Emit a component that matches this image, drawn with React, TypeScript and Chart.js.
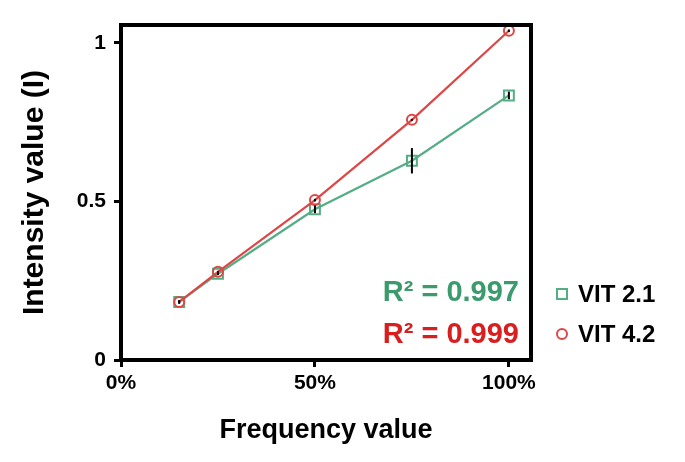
import React, { useEffect, useRef } from "react";
import { Chart, registerables } from "chart.js";

Chart.register(...registerables);

const frequency = [0.15, 0.25, 0.5, 0.75, 1.0];
const vit21 = [0.183, 0.272, 0.475, 0.628, 0.834];
const vit21Err = [0.006, 0.004, 0.012, 0.04, 0.012];
const vit42 = [0.183, 0.278, 0.504, 0.757, 1.038];
const vit42Err = [0.004, 0.003, 0.004, 0.003, 0.004];
const seriesNames = ["VIT 2.1", "VIT 4.2"];
const r2Labels = ["R\u00B2 = 0.997", "R\u00B2 = 0.999"];
const xTickValues = [0, 0.5, 1];
const xTickLabels = ["0%", "50%", "100%"];
const yTickValues = [0, 0.5, 1];
const yTickLabels = ["0", "0.5", "1"];
const xTitle = "Frequency value";
const yTitle = "Intensity value (I)";

const FONT = "'Liberation Sans', Arial, Helvetica, sans-serif";
const GREEN_LINE = "#55ad86";
const GREEN_TEXT = "#3c9a6c";
const RED_LINE = "#de4646";
const RED_TEXT = "#d81e1e";

const extrasPlugin = {
  id: "extras",
  afterDatasetsDraw(chart: any) {
    const { ctx } = chart;
    const yScale = chart.scales.y;
    const errs = [vit21Err, vit42Err];
    ctx.save();
    ctx.strokeStyle = "#000";
    ctx.lineWidth = 2;
    chart.data.datasets.forEach((ds: any, di: number) => {
      const meta = chart.getDatasetMeta(di);
      meta.data.forEach((pt: any, i: number) => {
        const v = ds.data[i].y;
        const e = errs[di][i];
        const y1 = yScale.getPixelForValue(v - e);
        const y2 = yScale.getPixelForValue(v + e);
        ctx.beginPath();
        ctx.moveTo(pt.x, y1);
        ctx.lineTo(pt.x, y2);
        ctx.stroke();
      });
    });
    ctx.restore();
  },
  afterDraw(chart: any) {
    const { ctx, chartArea } = chart;
    ctx.save();
    ctx.strokeStyle = "#000";
    ctx.lineWidth = 4;
    ctx.strokeRect(chartArea.left, chartArea.top, chartArea.right - chartArea.left, chartArea.bottom - chartArea.top);

    ctx.font = `bold 29px ${FONT}`;
    ctx.textAlign = "right";
    ctx.textBaseline = "alphabetic";
    const r2Colors = [GREEN_TEXT, RED_TEXT];
    r2Labels.forEach((t, i) => {
      ctx.fillStyle = r2Colors[i];
      ctx.fillText(t, chartArea.right - 12, 301 + i * 42);
    });

    const lx = chartArea.right + 31;
    const rows = [294, 334];
    ctx.font = `bold 24px ${FONT}`;
    ctx.textAlign = "left";
    ctx.textBaseline = "middle";
    ctx.lineWidth = 2;
    seriesNames.forEach((name, i) => {
      const y = rows[i];
      if (i === 0) {
        ctx.strokeStyle = GREEN_LINE;
        ctx.strokeRect(lx - 5, y - 5, 10, 10);
      } else {
        ctx.strokeStyle = RED_LINE;
        ctx.beginPath();
        ctx.arc(lx, y, 5, 0, Math.PI * 2);
        ctx.stroke();
      }
      ctx.fillStyle = "#000";
      ctx.fillText(name, lx + 16, y + 1);
    });
    ctx.restore();
  },
};

export default function App() {
  const ref = useRef<HTMLCanvasElement | null>(null);
  useEffect(() => {
    document.body.style.margin = "0";
    const canvas = ref.current!;
    const chart = new Chart(canvas, {
      type: "scatter",
      data: {
        datasets: [
          {
            label: seriesNames[0],
            data: frequency.map((x, i) => ({ x, y: vit21[i] })),
            showLine: true,
            borderColor: GREEN_LINE,
            borderWidth: 2.2,
            pointStyle: "rect",
            pointRadius: 7,
            pointBorderWidth: 2,
            pointBorderColor: GREEN_LINE,
            pointBackgroundColor: "rgba(255,255,255,0)",
            order: 2,
          },
          {
            label: seriesNames[1],
            data: frequency.map((x, i) => ({ x, y: vit42[i] })),
            showLine: true,
            borderColor: RED_LINE,
            borderWidth: 2.2,
            pointStyle: "circle",
            pointRadius: 5,
            pointBorderWidth: 2,
            pointBorderColor: RED_LINE,
            pointBackgroundColor: "rgba(255,255,255,0)",
            order: 1,
          },
        ],
      },
      options: {
        responsive: false,
        animation: false,
        devicePixelRatio: 1,
        layout: { padding: { top: 25, right: 154, left: 0, bottom: 0 } },
        plugins: { legend: { display: false }, tooltip: { enabled: false } },
        scales: {
          x: {
            type: "linear",
            min: 0,
            max: 1.057,
            afterBuildTicks: (s: any) => {
              s.ticks = xTickValues.map((v) => ({ value: v }));
            },
            afterFit: (s: any) => {
              s.height = 102;
            },
            ticks: {
              callback: (_v: any, i: number) => xTickLabels[i],
              font: { family: FONT, size: 21, weight: "bold" },
              color: "#000",
              padding: 4,
              maxRotation: 0,
              autoSkip: false,
            },
            grid: { drawOnChartArea: false, color: "#000", tickLength: 7, tickWidth: 3 },
            border: { display: false },
            title: {
              display: true,
              text: xTitle,
              color: "#000",
              font: { family: FONT, size: 27, weight: "bold" },
              padding: { top: 0, bottom: 15 },
            },
          },
          y: {
            type: "linear",
            min: 0,
            max: 1.056,
            afterBuildTicks: (s: any) => {
              s.ticks = yTickValues.map((v) => ({ value: v }));
            },
            afterFit: (s: any) => {
              s.width = 121;
            },
            ticks: {
              callback: (_v: any, i: number) => yTickLabels[i],
              font: { family: FONT, size: 21, weight: "bold" },
              color: "#000",
              padding: 8,
              autoSkip: false,
            },
            grid: { drawOnChartArea: false, color: "#000", tickLength: 7, tickWidth: 3 },
            border: { display: false },
            title: {
              display: true,
              text: yTitle,
              color: "#000",
              font: { family: FONT, size: 30, weight: "bold" },
              padding: { top: 17, bottom: 0 },
            },
          },
        },
      },
      plugins: [extrasPlugin],
    });
    return () => chart.destroy();
  }, []);
  return (
    <div style={{ width: 685, height: 462 }}>
      <canvas ref={ref} width={685} height={462} style={{ display: "block", width: 685, height: 462 }} />
    </div>
  );
}
